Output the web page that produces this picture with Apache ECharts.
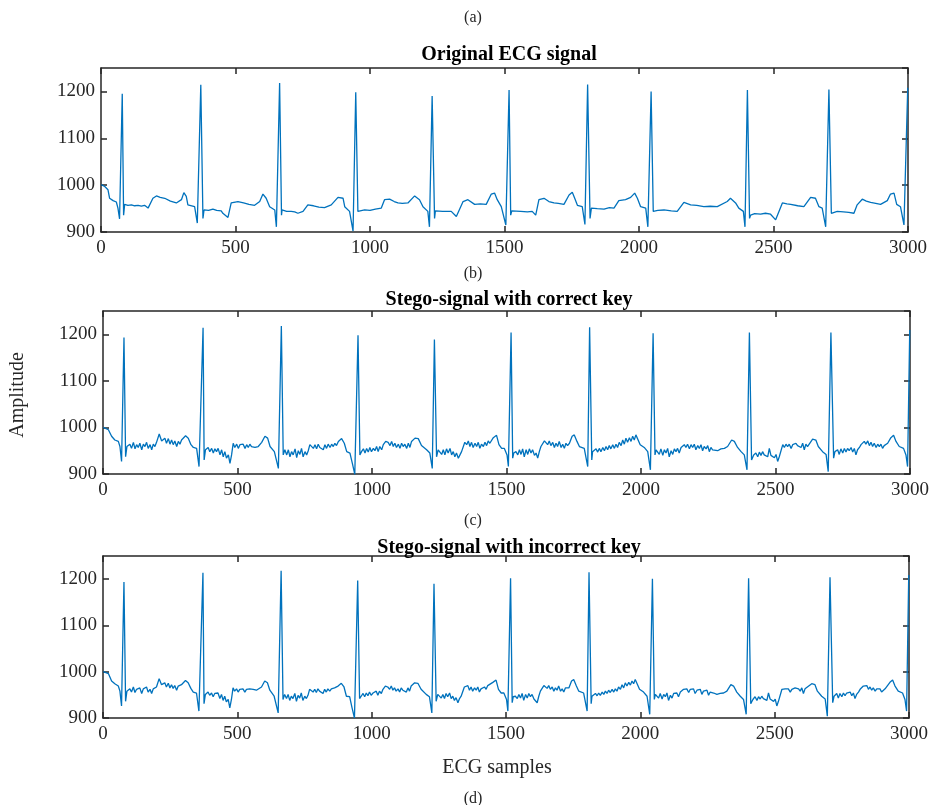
<!DOCTYPE html>
<html>
<head>
<meta charset="utf-8">
<script src="https://cdn.jsdelivr.net/npm/echarts@6/dist/echarts.min.js"></script>
<style>html,body{margin:0;padding:0;background:#fff}#c{width:937px;height:805px}</style>
</head>
<body>
<div id="c"></div>
<script>
// ---- data (sample index, amplitude) ----
const xTicks = [0, 500, 1000, 1500, 2000, 2500, 3000];
const yTicks = [900, 1000, 1100, 1200];
const panelTitles = ['Original ECG signal', 'Stego-signal with correct key', 'Stego-signal with incorrect key'];
const panelLetters = ['(a)', '(b)', '(c)', '(d)'];

const originalSignal = [
[1,1001],[8,998],[14,997],[20,1000],[26,990],[32,972],[45,967],[57,964],[63,951],[69,928],[79,1195],[84,936],[88,959],
[100,957],[113,958],[125,956],[138,957],[150,955],[162,957],[175,951],[193,972],[206,977],[220,974],[237,972],[258,966],[280,962],[299,969],[308,984],[317,976],[323,958],[348,954],[358,919],
[371,1214],[379,929],[383,947],[400,946],[416,949],[430,946],[447,945],[453,940],[472,931],[484,962],[509,965],[530,962],[550,959],[571,957],[590,965],[602,981],[614,972],[627,954],[646,947],[652,911],
[664,1218],[671,936],[673,947],[690,944],[707,944],[720,943],[732,940],[751,944],[769,958],[790,956],[810,953],[831,952],[856,958],[881,974],[900,972],[906,954],[924,944],[937,902],
[947,1198],[955,944],[980,947],[1000,946],[1020,949],[1042,951],[1054,969],[1073,970],[1090,965],[1104,962],[1120,961],[1141,962],[1166,977],[1184,969],[1197,954],[1215,944],[1221,911],
[1231,1190],[1240,929],[1243,945],[1270,944],[1302,944],[1321,933],[1346,965],[1364,969],[1389,959],[1410,960],[1432,959],[1451,981],[1463,983],[1473,969],[1488,954],[1505,915],
[1517,1203],[1523,936],[1527,945],[1560,944],[1585,943],[1603,944],[1616,936],[1628,969],[1647,972],[1665,965],[1684,962],[1700,961],[1721,959],[1740,979],[1752,985],[1761,972],[1771,957],[1789,954],[1799,916],
[1809,1215],[1818,929],[1823,951],[1845,950],[1870,949],[1890,952],[1907,951],[1925,967],[1950,969],[1969,974],[1984,983],[1994,972],[2006,954],[2025,951],[2033,911],
[2045,1200],[2053,944],[2070,946],[2093,947],[2120,945],[2142,944],[2167,963],[2192,958],[2215,957],[2241,954],[2265,955],[2291,954],[2328,965],[2340,972],[2359,962],[2371,951],[2388,944],[2394,911],
[2403,1203],[2411,929],[2415,936],[2430,939],[2452,938],[2470,940],[2489,938],[2508,926],[2533,962],[2550,960],[2564,959],[2590,956],[2613,954],[2638,974],[2656,972],[2669,954],[2681,951],[2694,911],
[2706,1204],[2715,940],[2737,944],[2760,943],[2780,942],[2799,940],[2811,958],[2830,970],[2845,966],[2861,963],[2880,961],[2898,959],[2923,967],[2935,981],[2948,983],[2958,959],[2972,954],[2985,915],[2999,1208]
];

const correctKeySignal = [
[1,1000],[7,999],[20,995],[26,999],[32,981],[44,973],[57,970],[63,959],[69,927],[78,1193],[84,937],[89,959],
[100,964],[106,955],[113,968],[119,954],[125,963],[131,957],[137,966],[144,952],[150,964],[156,959],[162,968],[168,955],[175,963],[181,952],[187,964],[193,959],[199,968],[209,986],[218,971],
[230,977],[236,966],[243,976],[249,964],[255,973],[261,963],[267,971],[274,959],[280,970],[286,964],[292,973],[307,982],[317,977],[327,963],[336,957],[348,955],[357,916],
[372,1214],[376,930],[381,952],[391,957],[397,948],[404,955],[410,945],[416,954],[422,948],[428,955],[435,941],[441,952],[447,937],[453,948],[459,934],[466,941],[472,923],[478,941],
[484,966],[490,957],[497,964],[503,955],[509,963],[515,959],[521,964],[528,955],[534,963],[540,957],[546,964],[552,959],[559,963],[565,957],[571,961],[577,959],[590,968],[602,981],[612,977],[621,959],[637,948],[652,912],
[663,1218],[670,941],[676,952],[683,941],[689,952],[695,937],[701,948],[707,941],[714,954],[720,935],[726,950],[732,942],[738,955],[744,937],[751,948],[757,941],[763,950],
[769,963],[775,964],[782,955],[788,963],[794,954],[800,964],[806,957],[813,961],[819,952],[825,963],[831,955],[837,964],[844,957],[850,964],[856,959],[862,966],[868,961],[875,970],[881,966],[887,976],[897,966],[906,948],[918,945],[927,923],[936,899],
[948,1198],[955,941],[961,948],[968,954],[974,945],[980,955],[986,947],[992,957],[998,948],[1005,955],[1011,950],[1017,959],[1023,948],[1029,959],[1036,952],[1042,963],
[1051,970],[1060,968],[1067,961],[1073,970],[1079,959],[1085,966],[1091,957],[1098,964],[1104,955],[1110,966],[1116,959],[1122,964],[1129,955],[1135,966],[1141,957],[1147,970],[1160,977],[1172,976],[1184,961],[1203,952],[1215,945],[1224,912],
[1232,1189],[1240,937],[1246,952],[1252,955],[1259,942],[1265,952],[1271,941],[1277,954],[1283,945],[1290,955],[1296,941],[1302,948],[1308,937],[1314,945],[1321,934],[1327,941],[1333,948],
[1345,968],[1352,963],[1358,971],[1364,959],[1370,968],[1376,957],[1383,966],[1389,959],[1395,968],[1401,955],[1407,964],[1414,959],[1420,968],[1426,961],[1432,971],[1438,966],[1451,978],[1463,983],[1472,963],[1482,955],[1492,955],[1502,941],[1507,916],
[1517,1204],[1523,934],[1527,945],[1535,948],[1542,941],[1548,952],[1554,942],[1560,954],[1566,937],[1573,952],[1579,942],[1585,954],[1591,945],[1597,952],[1604,940],[1610,945],[1616,934],[1622,948],
[1628,959],[1641,971],[1647,968],[1653,963],[1659,971],[1665,961],[1672,968],[1678,957],[1684,966],[1690,959],[1696,970],[1703,957],[1709,964],[1715,955],[1721,966],[1727,961],[1734,966],[1744,981],[1752,984],[1762,970],[1771,959],[1789,955],[1802,916],
[1809,1215],[1817,930],[1820,948],[1827,945],[1833,954],[1839,947],[1845,955],[1851,948],[1858,957],[1864,950],[1870,959],[1876,952],[1882,961],[1888,954],[1895,963],[1901,955],[1907,964],[1913,957],[1919,968],[1926,961],[1932,973],[1938,964],[1944,977],[1950,968],[1957,978],[1963,970],[1969,981],[1975,973],[1981,984],[1988,981],[1997,963],[2012,957],[2025,948],[2035,909],
[2045,1202],[2052,941],[2056,952],[2062,955],[2068,942],[2074,954],[2081,940],[2087,952],[2093,945],[2099,955],[2105,937],[2112,950],[2118,942],[2124,954],[2130,948],[2136,955],[2142,945],[2149,957],
[2161,963],[2167,957],[2173,964],[2180,954],[2186,963],[2192,957],[2198,964],[2204,952],[2211,961],[2217,955],[2223,963],[2229,950],[2235,959],[2242,954],[2248,961],[2254,948],[2260,957],[2266,952],[2273,955],[2285,950],[2297,954],[2310,955],[2322,959],[2337,973],[2347,970],[2359,957],[2372,948],[2384,941],[2394,909],
[2403,1204],[2411,930],[2419,941],[2427,945],[2434,937],[2440,947],[2446,940],[2452,948],[2458,941],[2465,945],[2471,937],[2477,955],[2483,940],[2489,942],[2496,935],[2502,942],[2508,927],[2514,937],
[2527,963],[2533,957],[2539,964],[2545,959],[2551,964],[2558,955],[2564,963],[2570,959],[2576,966],[2582,961],[2589,964],[2595,957],[2601,966],[2607,952],[2613,964],[2619,959],[2638,975],[2650,973],[2659,959],[2675,948],[2688,942],[2696,905],
[2706,1204],[2716,934],[2721,948],[2731,952],[2737,942],[2743,954],[2750,945],[2756,955],[2762,947],[2768,955],[2774,950],[2781,957],[2787,947],[2793,955],[2799,941],[2805,952],[2812,957],[2818,963],
[2830,970],[2836,964],[2843,971],[2849,961],[2855,968],[2861,959],[2867,966],[2874,957],[2880,964],[2886,959],[2892,964],[2898,955],[2904,961],[2911,964],[2917,966],[2929,978],[2939,983],[2948,970],[2960,959],[2976,955],[2985,941],[2991,916],[2999,1209]
];

const incorrectKeySignal = [
[1,1000],[7,998],[20,996],[26,998],[32,980],[44,974],[57,969],[63,958],[69,926],[78,1194],[84,936],[89,958],
[100,963],[106,956],[113,967],[119,955],[125,962],[131,958],[137,965],[144,953],[150,963],[156,960],[162,967],[168,956],[175,962],[181,953],[187,963],[193,960],[199,967],[209,985],[218,972],
[230,976],[236,967],[243,975],[249,965],[255,972],[261,964],[267,970],[274,960],[280,969],[286,965],[292,972],[307,981],[317,976],[327,964],[336,956],[348,954],[357,915],
[372,1214],[376,931],[381,951],[391,956],[397,949],[404,954],[410,946],[416,953],[422,949],[428,954],[435,942],[441,951],[447,938],[453,947],[459,935],[466,940],[472,922],[478,940],
[484,965],[490,958],[497,963],[503,956],[509,962],[515,960],[521,963],[528,956],[534,962],[540,958],[546,963],[552,960],[559,962],[565,958],[571,960],[577,960],[590,967],[602,980],[612,976],[621,960],[637,947],[652,911],
[663,1218],[670,940],[676,951],[683,942],[689,951],[695,938],[701,947],[707,942],[714,953],[720,936],[726,949],[732,943],[738,954],[744,938],[751,947],[757,942],[763,949],
[769,962],[775,963],[782,956],[788,962],[794,955],[800,963],[806,958],[813,960],[819,953],[825,962],[831,956],[837,963],[844,958],[850,963],[856,960],[862,965],[868,962],[875,969],[881,967],[887,975],[897,967],[906,947],[918,946],[927,922],[936,900],
[948,1197],[955,942],[961,947],[968,953],[974,946],[980,954],[986,948],[992,956],[998,949],[1005,954],[1011,951],[1017,958],[1023,949],[1029,958],[1036,953],[1042,962],
[1051,969],[1060,967],[1067,962],[1073,969],[1079,960],[1085,965],[1091,958],[1098,963],[1104,956],[1110,965],[1116,960],[1122,963],[1129,956],[1135,965],[1141,958],[1147,969],[1160,976],[1172,975],[1184,962],[1203,951],[1215,946],[1224,911],
[1232,1190],[1240,936],[1246,951],[1252,954],[1259,943],[1265,951],[1271,942],[1277,953],[1283,946],[1290,954],[1296,942],[1302,947],[1308,938],[1314,944],[1321,933],[1327,942],[1333,947],
[1345,967],[1352,964],[1358,970],[1364,960],[1370,967],[1376,958],[1383,965],[1389,960],[1395,967],[1401,956],[1407,963],[1414,960],[1420,967],[1426,962],[1432,970],[1438,967],[1451,977],[1463,982],[1472,962],[1482,954],[1492,954],[1502,940],[1507,915],
[1517,1202],[1523,933],[1527,946],[1535,947],[1542,942],[1548,951],[1554,943],[1560,953],[1566,938],[1573,951],[1579,943],[1585,953],[1591,946],[1597,951],[1604,941],[1610,944],[1616,933],[1622,947],
[1628,958],[1641,970],[1647,967],[1653,964],[1659,970],[1665,962],[1672,967],[1678,958],[1684,965],[1690,960],[1696,969],[1703,958],[1709,963],[1715,956],[1721,965],[1727,962],[1734,965],[1744,980],[1752,983],[1762,969],[1771,958],[1789,954],[1802,915],
[1809,1215],[1817,931],[1820,947],[1827,946],[1833,953],[1839,948],[1845,954],[1851,949],[1858,956],[1864,951],[1870,958],[1876,953],[1882,960],[1888,955],[1895,962],[1901,956],[1907,963],[1913,958],[1919,967],[1926,962],[1932,972],[1938,965],[1944,976],[1950,969],[1957,977],[1963,971],[1969,980],[1975,974],[1981,983],[1988,980],[1997,962],[2012,956],[2025,947],[2035,908],
[2045,1201],[2052,940],[2056,951],[2062,954],[2068,943],[2074,953],[2081,941],[2087,951],[2093,946],[2099,954],[2105,938],[2112,949],[2118,943],[2124,953],[2130,949],[2136,954],[2142,946],[2149,956],
[2161,962],[2167,958],[2173,963],[2180,955],[2186,962],[2192,958],[2198,963],[2204,953],[2211,960],[2217,956],[2223,962],[2229,951],[2235,958],[2242,955],[2248,960],[2254,949],[2260,956],[2266,953],[2273,954],[2285,951],[2297,953],[2310,954],[2322,958],[2337,972],[2347,969],[2359,956],[2372,947],[2384,940],[2394,908],
[2403,1202],[2411,931],[2419,940],[2427,946],[2434,938],[2440,946],[2446,941],[2452,947],[2458,942],[2465,944],[2471,938],[2477,954],[2483,941],[2489,941],[2496,936],[2502,941],[2508,926],[2514,936],
[2527,962],[2533,958],[2539,963],[2545,960],[2551,963],[2558,956],[2564,962],[2570,960],[2576,965],[2582,962],[2589,963],[2595,958],[2601,965],[2607,953],[2613,963],[2619,960],[2638,974],[2650,972],[2659,958],[2675,947],[2688,941],[2696,904],
[2706,1204],[2716,933],[2721,947],[2731,953],[2737,943],[2743,953],[2750,946],[2756,954],[2762,948],[2768,954],[2774,951],[2781,956],[2787,948],[2793,954],[2799,942],[2805,951],[2812,956],[2818,962],
[2830,969],[2836,965],[2843,970],[2849,962],[2855,967],[2861,960],[2867,965],[2874,958],[2880,963],[2886,960],[2892,963],[2898,956],[2904,960],[2911,963],[2917,965],[2929,977],[2939,982],[2948,969],[2960,958],[2976,954],[2985,940],[2991,915],[2999,1209]
];

// ---- styling ----
const FONT = 'Liberation Serif';
const INK = '#262626';
const LINE = '#0072BD';
const grids = [
  {left: 101, top: 68, width: 807, height: 164},
  {left: 103, top: 311, width: 807, height: 163},
  {left: 103, top: 556, width: 806, height: 162}
];
const signals = [originalSignal, correctKeySignal, incorrectKeySignal];

const xAxes = [], yAxes = [], series = [];
grids.forEach((g, i) => {
  const axLine = {show: true, onZero: false, lineStyle: {color: INK, width: 1.5}};
  const tick = {inside: true, length: 6, lineStyle: {color: INK, width: 1.5}};
  xAxes.push({type: 'value', gridIndex: i, min: xTicks[0], max: xTicks[xTicks.length - 1], interval: 500,
    axisLine: axLine, axisTick: tick,
    axisLabel: {fontFamily: FONT, fontSize: 19, color: INK, margin: 7, formatter: v => String(v)}, splitLine: {show: false}});
  xAxes.push({type: 'value', gridIndex: i, position: 'top', min: xTicks[0], max: xTicks[xTicks.length - 1], interval: 500,
    axisLine: axLine, axisTick: tick, axisLabel: {show: false}, splitLine: {show: false}});
  yAxes.push({type: 'value', gridIndex: i, min: yTicks[0], max: 1250, interval: 100,
    axisLine: axLine, axisTick: tick,
    axisLabel: {fontFamily: FONT, fontSize: 19, color: INK, margin: 6, showMaxLabel: false,
      formatter: v => (yTicks.indexOf(v) >= 0 ? String(v) : '')}, splitLine: {show: false}});
  yAxes.push({type: 'value', gridIndex: i, position: 'right', min: yTicks[0], max: 1250, interval: 100,
    axisLine: axLine, axisTick: tick, axisLabel: {show: false}, splitLine: {show: false}});
  series.push({type: 'line', xAxisIndex: 2 * i, yAxisIndex: 2 * i, data: signals[i], showSymbol: false,
    symbol: 'none', animation: false, lineStyle: {color: LINE, width: 1.3}, clip: true});
});

const letterTops = [5, 261, 508, 786];
const titles = panelLetters.map((t, i) => ({text: t, left: 468, top: letterTops[i], textAlign: 'center',
  textStyle: {fontFamily: FONT, fontSize: 16, fontWeight: 'normal', color: INK}}));
const titleTops = [40, 285, 533];
panelTitles.forEach((t, i) => titles.push({text: t, left: 504, top: titleTops[i], textAlign: 'center',
  textStyle: {fontFamily: FONT, fontSize: 20, fontWeight: 'bold', color: '#000'}}));

const chart = echarts.init(document.getElementById('c'), null, {renderer: 'canvas'});
chart.setOption({
  animation: false,
  backgroundColor: '#fff',
  title: titles,
  grid: grids,
  xAxis: xAxes,
  yAxis: yAxes,
  series: series,
  graphic: [
    {type: 'text', x: 497, y: 768, style: {text: 'ECG samples', fontFamily: FONT, fontSize: 20, fill: INK, textAlign: 'center', textVerticalAlign: 'middle'}},
    {type: 'text', x: 18, y: 395, rotation: Math.PI / 2, style: {text: 'Amplitude', fontFamily: FONT, fontSize: 20, fill: INK, textAlign: 'center', textVerticalAlign: 'middle'}}
  ]
});
</script>
</body>
</html>
